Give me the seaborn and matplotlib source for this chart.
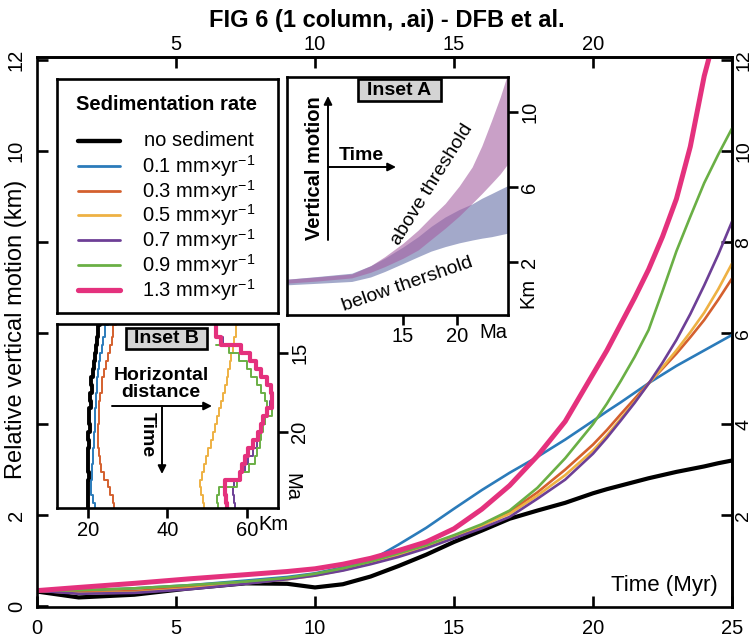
import matplotlib
matplotlib.use("Agg")
import pandas as pd
import matplotlib.pyplot as plt
import seaborn as sns
from matplotlib.patches import Rectangle, FancyArrowPatch

sns.set_theme(style="ticks")
plt.rcParams["font.family"] = ["Liberation Sans", "DejaVu Sans"]
plt.rcParams["mathtext.fontset"] = "custom"
plt.rcParams["mathtext.rm"] = "Liberation Sans"
for key in ["axes.edgecolor", "xtick.color", "ytick.color", "text.color", "axes.labelcolor"]:
    plt.rcParams[key] = "black"

W, H = 753, 640

# ---------------- data: main panel (time in Myr, vertical motion in km)
time_myr = [0, 1.5, 3.5, 5.5, 7.5, 9, 10, 11, 12, 13, 14, 15, 16, 17, 18, 19, 20,
            20.5, 21, 21.5, 22, 22.5, 23, 23.5, 24, 24.5, 25]
no_sed = [0.32, 0.19, 0.25, 0.39, 0.50, 0.49, 0.41, 0.48, 0.65, 0.88, 1.13, 1.41, 1.66, 1.92, 2.10, 2.27, 2.48,
          2.57, 2.65, 2.73, 2.81, 2.88, 2.95, 3.01, 3.07, 3.14, 3.20]
rate_01 = [0.34, 0.34, 0.39, 0.46, 0.56, 0.64, 0.72, 0.85, 1.00, 1.35, 1.72, 2.14, 2.55, 2.93, 3.28, 3.66, 4.07,
           4.28, 4.48, 4.69, 4.90, 5.09, 5.28, 5.45, 5.62, 5.79, 5.96]
rate_03 = [0.34, 0.30, 0.33, 0.42, 0.52, 0.61, 0.69, 0.81, 0.96, 1.14, 1.32, 1.54, 1.76, 2.07, 2.50, 3.00, 3.55,
           3.87, 4.22, 4.56, 4.90, 5.22, 5.55, 5.91, 6.29, 6.73, 7.20]
rate_05 = [0.34, 0.28, 0.30, 0.39, 0.50, 0.59, 0.67, 0.79, 0.94, 1.12, 1.31, 1.54, 1.77, 2.03, 2.43, 2.88, 3.42,
           3.75, 4.12, 4.49, 4.89, 5.25, 5.62, 6.02, 6.45, 6.96, 7.53]
rate_07 = [0.34, 0.27, 0.29, 0.37, 0.49, 0.59, 0.67, 0.78, 0.92, 1.08, 1.27, 1.49, 1.71, 1.96, 2.36, 2.78, 3.35,
           3.70, 4.08, 4.47, 4.89, 5.35, 5.85, 6.42, 7.05, 7.72, 8.45]
rate_09 = [0.34, 0.35, 0.39, 0.46, 0.54, 0.62, 0.71, 0.83, 0.98, 1.16, 1.34, 1.56, 1.80, 2.10, 2.60, 3.25, 4.00,
           4.45, 4.95, 5.48, 6.07, 6.92, 7.80, 8.56, 9.30, 9.92, 10.50]
rate_13 = [0.34, 0.41, 0.50, 0.60, 0.69, 0.76, 0.82, 0.92, 1.05, 1.22, 1.41, 1.70, 2.13, 2.65, 3.30, 4.06, 5.10,
           5.62, 6.20, 6.78, 7.40, 8.12, 8.95, 10.10, 11.65, 12.80, 14.00]

left_labels = ["0", "2", "", "", "", "10", "12"]

# ---------------- data: inset B (horizontal distance in km vs time in Ma)
ma_b = [13.2, 14.0, 14.5, 15.0, 15.5, 16.0, 16.5, 17.0, 17.5, 18.0, 18.5, 19.0,
        19.5, 20.0, 20.5, 21.0, 21.5, 22.0, 22.5, 23.0, 23.5, 24.0, 24.5, 24.8]
km_none = [22.9, 22.5, 22.2, 22.0, 21.6, 21.4, 21.1, 20.8, 20.9, 20.5, 20.6, 20.1,
           20.3, 20.4, 20.0, 20.2, 20.0, 20.0, 19.9, 20.1, 19.9, 20.0, 20.0, 20.0]
km_01 = [25.0, 24.3, 23.8, 23.4, 23.0, 22.7, 22.5, 22.1, 22.2, 21.9, 21.9, 21.7,
         21.8, 21.6, 21.5, 21.4, 21.3, 21.2, 21.0, 20.9, 20.8, 20.7, 21.2, 21.8]
km_03 = [27.1, 26.3, 26.0, 25.5, 25.0, 24.5, 24.0, 23.5, 23.4, 23.0, 22.8, 22.6,
         22.6, 22.4, 22.5, 22.5, 22.6, 22.9, 23.3, 24.0, 25.0, 25.6, 26.2, 26.5]
km_05 = [57.6, 57.2, 56.8, 56.6, 56.1, 55.8, 55.4, 55.0, 54.6, 54.0, 53.6, 53.1,
         52.5, 52.0, 51.5, 50.9, 50.3, 49.6, 49.1, 48.6, 48.3, 48.5, 48.9, 49.1]
km_07 = [52.4, 52.4, 54.0, 58.8, 61.0, 62.0, 63.6, 64.9, 65.8, 66.2, 66.0, 65.4,
         64.5, 63.8, 63.3, 62.6, 61.6, 60.3, 59.5, 58.4, 56.9, 56.5, 56.8, 57.0]
km_09 = [None, None, 52.3, 55.5, 58.0, 60.0, 61.2, 62.5, 63.6, 64.5, 65.2, 66.4,
         64.5, 64.0, 63.7, 63.4, 62.5, 62.0, 60.5, 58.6, 57.6, 53.0, 52.4, 52.8]
km_13 = [52.2, 52.2, 53.5, 58.6, 60.9, 62.3, 63.7, 65.0, 66.2, 66.5, 66.4, 65.0,
         64.0, 63.5, 62.9, 61.6, 60.2, 59.6, 58.7, 58.2, 54.5, 54.5, 54.7, 54.9]

# ---------------- data: inset A (threshold envelopes)
ma_a = [4.26, 7.0, 10.25, 12.0, 13.3, 15.0, 16.4, 17.6, 18.9, 20.2, 21.4, 22.3, 23.2, 24.0, 24.72]
above_hi = [1.08, 1.20, 1.36, 1.80, 2.28, 3.00, 3.70, 4.40, 5.12, 6.05, 7.07, 8.20, 9.55, 10.80, 12.10]
above_lo = [0.87, 0.98, 1.15, 1.45, 1.75, 2.20, 2.64, 3.20, 3.80, 4.45, 5.13, 5.65, 6.20, 6.70, 7.25]
below_hi = [1.08, 1.22, 1.40, 1.80, 2.20, 2.80, 3.35, 3.90, 4.40, 4.80, 5.10, 5.40, 5.65, 5.88, 6.08]
below_lo = [0.78, 0.86, 0.96, 1.20, 1.49, 1.92, 2.28, 2.58, 2.82, 3.02, 3.17, 3.27, 3.35, 3.45, 3.54]

rates = ["none", "0.1", "0.3", "0.5", "0.7", "0.9", "1.3"]
labels = ["no sediment"] + [r + r" mm×yr$^{\mathregular{-1}}$" for r in rates[1:]]
colors = ["#000000", "#2b7bba", "#d4602e", "#eeb143", "#6d3f96", "#6aaf45", "#e4317d"]
palette = dict(zip(rates, colors))
main_lw = dict(zip(rates, [3.0, 1.9, 1.9, 1.9, 1.9, 1.9, 3.6]))
inset_lw = dict(zip(rates, [2.8, 1.4, 1.4, 1.4, 1.4, 1.4, 3.0]))

main_series = [no_sed, rate_01, rate_03, rate_05, rate_07, rate_09, rate_13]
inset_series = [km_none, km_01, km_03, km_05, km_07, km_09, km_13]

df_main = pd.concat([pd.DataFrame({"time": time_myr, "motion": v, "rate": r})
                     for r, v in zip(rates, main_series)], ignore_index=True)
df_b = pd.concat([pd.DataFrame({"ma": ma_b, "km": v, "rate": r})
                  for r, v in zip(rates, inset_series)], ignore_index=True).dropna()


def fbox(l, t, r, b):
    return [l / W, 1 - b / H, (r - l) / W, (b - t) / H]


def fpt(x, y):
    return x / W, 1 - y / H


fig = plt.figure(figsize=(W / 100, H / 100), dpi=100)
SP = 1.9  # spine width

# ---------------- main axes
ax = fig.add_axes(fbox(37, 57, 732, 607))
sns.lineplot(data=df_main, x="time", y="motion", hue="rate", size="rate",
             palette=palette, sizes=main_lw, hue_order=rates, size_order=rates,
             legend=False, ax=ax)
ax.set_xlim(0, 25)
ax.set_ylim(-0.02, 12.07)
ax.set_xlabel("")
ax.set_ylabel("")
ax.set_xticks(range(0, 26, 5))
ax.set_yticks(range(0, 13, 2), labels=left_labels)
ax.tick_params(direction="in", length=8, width=SP, labelsize=14.5)
ax.tick_params(axis="x", pad=9)
ax.tick_params(axis="y", pad=8, labelrotation=90)
plt.setp(ax.get_yticklabels(), va="center")
for s in ax.spines.values():
    s.set_linewidth(SP)

top = ax.secondary_xaxis("top")
top.set_xticks([5, 10, 15, 20])
top.tick_params(direction="in", length=8, width=SP, labelsize=14.5, pad=2)
right = ax.secondary_yaxis("right")
right.set_yticks(range(2, 13, 2))
right.tick_params(direction="in", length=8, width=SP, labelsize=14, pad=2.5, labelrotation=90)
plt.setp(right.get_yticklabels(), va="center")
for sec in (top, right):
    for s in sec.spines.values():
        s.set_linewidth(SP)

fig.text(*fpt(387, 20), "FIG 6 (1 column, .ai) - DFB et al.", ha="center", va="center",
         fontsize=17, fontweight="bold")
fig.text(*fpt(16, 329), "Relative vertical motion (km)", ha="center", va="center",
         rotation=90, fontsize=17)
fig.text(*fpt(718, 585), "Time (Myr)", ha="right", va="center", fontsize=16)

# ---------------- legend box
lg = fig.add_axes(fbox(57, 79, 278, 313))
lg.set_xlim(57, 278)
lg.set_ylim(313, 79)
lg.set_xticks([])
lg.set_yticks([])
for s in lg.spines.values():
    s.set_linewidth(SP)
lg.text(167, 105, "Sedimentation rate", ha="center", va="center", fontsize=14.5, fontweight="bold")
rows = [141, 166, 191, 215, 240, 265, 290]
for r, lab, yy in zip(rates, labels, rows):
    lg.plot([78, 120], [yy, yy], color=palette[r], lw=main_lw[r] * 1.05, solid_capstyle="round")
    lg.text(199, yy, lab, ha="center", va="center", fontsize=14.5)

# ---------------- inset A
ia = fig.add_axes(fbox(287, 77, 508, 315))
ia.fill_between(ma_a, below_lo, below_hi, color="#6671a8", alpha=0.6, lw=0)
ia.fill_between(ma_a, above_lo, above_hi, color="#a561a3", alpha=0.6, lw=0)
ia.set_xlim(4.26, 24.72)
ia.set_ylim(-0.83, 11.87)
ia.set_xticks([15, 20])
ia.set_yticks([2, 6, 10])
ia.yaxis.tick_right()
ia.tick_params(direction="out", length=7, width=SP, labelsize=14.5, pad=2)
ia.tick_params(axis="y", labelrotation=90)
plt.setp(ia.get_yticklabels(), va="center")
for s in ia.spines.values():
    s.set_linewidth(SP)
fig.text(*fpt(493, 333), "Ma", ha="center", va="center", fontsize=14.5)
fig.text(*fpt(528, 293), "Km", ha="center", va="center", fontsize=14.5, rotation=90)
ia.add_patch(Rectangle(fpt(358, 101), 83 / W, 22 / H, transform=fig.transFigure,
                       facecolor="#d4d4d4", edgecolor="black", lw=SP, clip_on=False, zorder=5))
fig.text(*fpt(399.5, 90.5), "Inset A", ha="center", va="center", fontsize=14, fontweight="bold", zorder=6)
fig.text(*fpt(315, 168), "Vertical motion", ha="center", va="center", rotation=90,
         fontsize=14.5, fontweight="bold")
fig.text(*fpt(361, 155), "Time", ha="center", va="center", fontsize=14, fontweight="bold")
arrow = dict(arrowstyle="-|>", color="black", lw=1.4, mutation_scale=12, shrinkA=0, shrinkB=0)
fig.add_artist(FancyArrowPatch(fpt(328, 240), fpt(328, 96), transform=fig.transFigure, **arrow))
fig.add_artist(FancyArrowPatch(fpt(328, 167), fpt(396, 167), transform=fig.transFigure, **arrow))
fig.text(*fpt(432, 184), "above threshold", ha="center", va="center", rotation=58,
         rotation_mode="anchor", fontsize=14)
fig.text(*fpt(407, 284), "below thershold", ha="center", va="center", rotation=19,
         rotation_mode="anchor", fontsize=14)

# ---------------- inset B
ib = fig.add_axes(fbox(57, 324, 278, 508))
sns.lineplot(data=df_b, x="km", y="ma", hue="rate", size="rate", palette=palette,
             sizes=inset_lw, hue_order=rates, size_order=rates, legend=False,
             estimator=None, sort=False, drawstyle="steps-post", ax=ib)
ib.set_xlim(12.1, 67.9)
ib.set_ylim(24.8, 13.15)
ib.set_xlabel("")
ib.set_ylabel("")
ib.set_xticks([20, 40, 60])
ib.set_yticks([15, 20])
ib.yaxis.tick_right()
ib.tick_params(direction="out", length=7, width=SP, labelsize=14.5, pad=2)
ib.tick_params(axis="y", labelrotation=90)
plt.setp(ib.get_yticklabels(), va="center")
for s in ib.spines.values():
    s.set_linewidth(SP)
fig.text(*fpt(273, 525), "Km", ha="center", va="center", fontsize=14.5)
fig.text(*fpt(292, 487), "Ma", ha="center", va="center", fontsize=14.5, rotation=270)
ib.add_patch(Rectangle(fpt(126, 349), 81 / W, 21 / H, transform=fig.transFigure,
                       facecolor="#d4d4d4", edgecolor="black", lw=SP, clip_on=False, zorder=5))
fig.text(*fpt(166.5, 338.5), "Inset B", ha="center", va="center", fontsize=14, fontweight="bold", zorder=6)
fig.text(*fpt(161, 384), "Horizontal\ndistance", ha="center", va="center", fontsize=14,
         fontweight="bold", linespacing=0.95)
fig.text(*fpt(147, 435), "Time", ha="center", va="center", fontsize=14, fontweight="bold", rotation=270)
fig.add_artist(FancyArrowPatch(fpt(112, 406), fpt(212, 406), transform=fig.transFigure, **arrow))
fig.add_artist(FancyArrowPatch(fpt(162, 406), fpt(162, 474), transform=fig.transFigure, **arrow))

fig.savefig("out.png", dpi=100)
